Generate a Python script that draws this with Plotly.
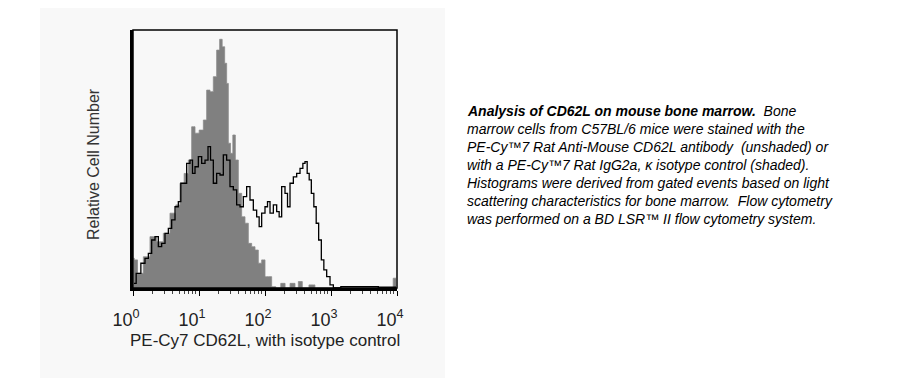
import numpy as np
import plotly.graph_objects as go

# ---- data (log10 fluorescence position, relative count 0-100) ----
iso_log = [0.01, 0.030, 0.106, 0.207, 0.308, 0.409, 0.510, 0.611, 0.687, 0.737, 0.813, 0.864,
           0.914, 0.965, 1.040, 1.091, 1.141, 1.192, 1.242, 1.293, 1.333, 1.369, 1.409, 1.429,
           1.460, 1.495, 1.530, 1.571, 1.621, 1.672, 1.722, 1.773, 1.823, 1.874, 1.924, 1.975,
           2.025, 2.076, 2.126, 2.200, 2.278, 2.330, 2.429, 2.480, 2.530, 2.600, 2.732, 2.780,
           3.900, 3.985]
iso_count = [11.5, 10.9, 5.7, 12.1, 19.9, 17.9, 21.2, 29.0, 32.2, 40.6, 44.4, 49.6,
             62.5, 60.0, 61.2, 65.1, 76.7, 76.1, 81.9, 92.2, 96.4, 93.5, 87.1, 79.3,
             56.1, 52.2, 59.3, 49.6, 36.7, 27.6, 25.1, 17.3, 16.0, 14.7, 9.6, 10.9,
             4.4, 4.4, 0.5, 0.0, 1.8, 0.0, 1.8, 0.0, 2.5, 0.0, 1.2, 0.0,
             0.0, 3.8]

cd_log = [0.015, 0.081, 0.157, 0.207, 0.258, 0.308, 0.359, 0.409, 0.460, 0.510, 0.561, 0.611,
          0.662, 0.712, 0.737, 0.788, 0.838, 0.889, 0.914, 0.965, 1.015, 1.066, 1.116, 1.157,
          1.192, 1.242, 1.293, 1.343, 1.394, 1.444, 1.495, 1.545, 1.596, 1.646, 1.697, 1.747,
          1.798, 1.848, 1.899, 1.924, 1.975, 2.025, 2.051, 2.101, 2.152, 2.202, 2.227, 2.278,
          2.328, 2.354, 2.404, 2.455, 2.505, 2.556, 2.591, 2.621, 2.657, 2.682, 2.722, 2.758,
          2.793, 2.833, 2.874, 2.909, 2.960, 3.010, 3.061, 3.237, 3.540, 3.894, 3.985]
cd_count = [1.8, 5.7, 9.6, 11.5, 13.4, 18.6, 19.9, 16.0, 17.3, 21.2, 23.1, 26.4,
            31.5, 33.5, 40.6, 40.6, 48.3, 49.6, 44.4, 47.0, 50.9, 48.3, 49.6, 54.8,
            49.6, 40.6, 44.4, 43.8, 51.6, 49.6, 39.3, 38.0, 32.2, 31.5, 35.4, 39.3,
            34.1, 30.2, 27.6, 23.8, 29.0, 31.5, 33.5, 29.0, 32.2, 29.6, 27.6, 39.3,
            36.7, 31.5, 40.6, 43.1, 44.4, 46.4, 48.3, 49.0, 44.4, 41.9, 36.7, 31.5,
            25.1, 18.6, 10.9, 7.0, 4.4, 1.2, 0.0, 0.5, 0.5, 0.3, 0.3]

tick_vals = [1, 10, 100, 1000, 10000]
tick_text = ["10<sup>0</sup>", "10<sup>1</sup>", "10<sup>2</sup>", "10<sup>3</sup>", "10<sup>4</sup>"]

caption_lines = [
    "<b><i>Analysis of CD62L on mouse bone marrow.</i></b><i>\u00a0 Bone</i>",
    "<i>marrow cells from C57BL/6 mice were stained with the</i>",
    "<i>PE-Cy\u21227 Rat Anti-Mouse CD62L antibody \u00a0(unshaded) or</i>",
    "<i>with a PE-Cy\u21227 Rat IgG2a, \u03ba isotype control (shaded).</i>",
    "<i>Histograms were derived from gated events based on light</i>",
    "<i>scattering characteristics for bone marrow.\u00a0 Flow cytometry</i>",
    "<i>was performed on a BD LSR\u2122 II flow cytometry system.</i>",
]

# ---- layout geometry (pixels) ----
W, H = 917, 383
PL, PR, PT, PB = 133, 397, 30, 288
pw, ph = PR - PL, PB - PT

def px(x):
    return (x - PL) / pw

def py(y):
    return (PB - y) / ph

FONT = "Liberation Sans, Arial, sans-serif"

fig = go.Figure()
fig.add_trace(go.Scatter(
    x=10 ** np.array(iso_log), y=iso_count, mode="lines", line_shape="hvh",
    line=dict(color="#8c8c8c", width=0.8), fill="tozeroy", fillcolor="#808080",
    hoverinfo="skip", showlegend=False))
fig.add_trace(go.Scatter(
    x=10 ** np.array(cd_log), y=cd_count, mode="lines", line_shape="hvh",
    line=dict(color="black", width=1.3), hoverinfo="skip", showlegend=False))

minor_vals = [m * 10 ** d for d in range(4) for m in range(2, 10)]

fig.update_xaxes(
    type="log", range=[0, 4], showgrid=False, zeroline=False,
    showline=True, linecolor="black", linewidth=3,
    tickmode="array", tickvals=tick_vals, ticktext=tick_text,
    ticks="outside", ticklen=5, tickwidth=1, tickcolor="black",
    minor=dict(tickmode="array", tickvals=minor_vals, ticks="outside",
               ticklen=3, tickwidth=1, tickcolor="#444", showgrid=False),
    tickfont=dict(family=FONT, size=18, color="#222"),
    ticklabelshift=-7, ticklabelstandoff=8)
fig.update_yaxes(
    range=[0, 100], showgrid=False, zeroline=False, showticklabels=False,
    showline=True, linecolor="black", linewidth=3, ticks="")

shapes = [
    dict(type="rect", xref="paper", yref="paper", x0=px(40), x1=px(445), y0=py(378), y1=py(8),
         fillcolor="#f8f8f8", line=dict(width=0), layer="below"),
    dict(type="rect", xref="paper", yref="paper", x0=0, x1=1, y0=0, y1=1,
         line=dict(color="black", width=1.5), fillcolor="rgba(0,0,0,0)", layer="above"),
]

annotations = [
    dict(text="Relative Cell Number", x=px(93), y=py(164), xref="paper", yref="paper",
         textangle=-90, showarrow=False, xanchor="center", yanchor="middle",
         font=dict(family=FONT, size=16, color="#333")),
    dict(text="PE-Cy7 CD62L, with isotype control", x=px(265), y=py(340),
         xref="paper", yref="paper", showarrow=False, xanchor="center", yanchor="middle",
         font=dict(family=FONT, size=17, color="#222")),
]
for i, line in enumerate(caption_lines):
    annotations.append(dict(
        text=line, x=px(465), y=py(111 + 18 * i), xref="paper", yref="paper",
        showarrow=False, xanchor="left", yanchor="middle", align="left",
        font=dict(family=FONT, size=14, color="black")))

fig.update_layout(
    width=W, height=H, margin=dict(l=PL, r=W - PR, t=PT, b=H - PB, pad=0),
    paper_bgcolor="white", plot_bgcolor="rgba(0,0,0,0)",
    shapes=shapes, annotations=annotations, showlegend=False)

fig.write_html("out.html", config={"displayModeBar": False},
               post_script="document.body.style.margin='0';")
